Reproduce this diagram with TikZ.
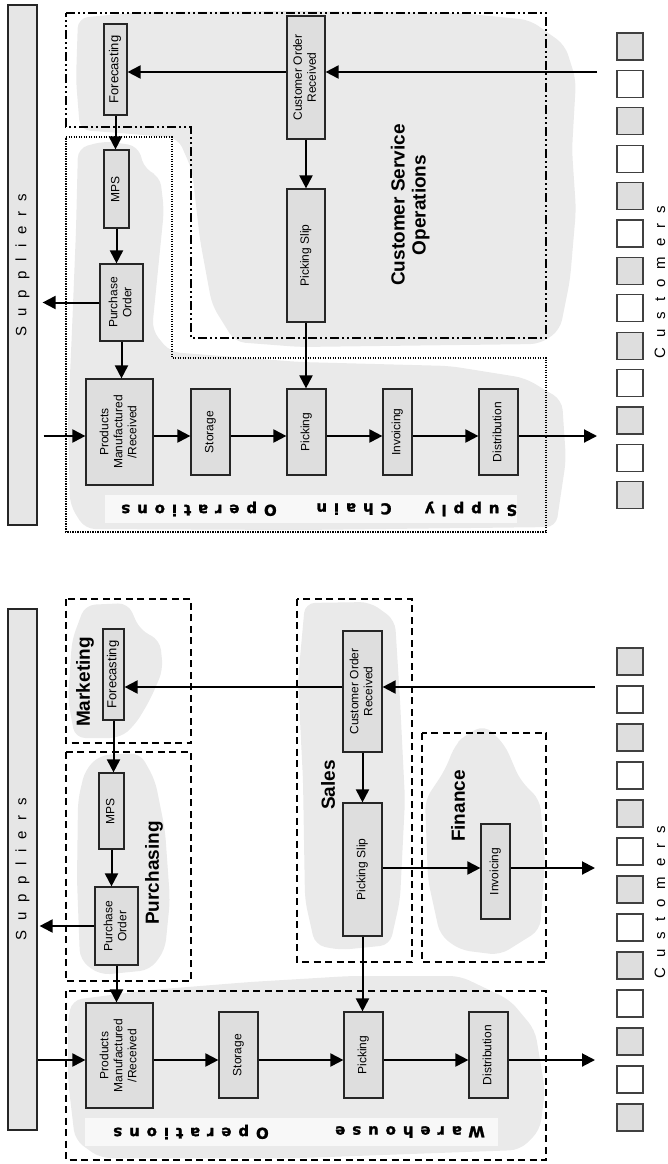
\documentclass[tikz,border=0pt]{standalone}
\usepackage{fontspec}
\setmainfont{Liberation Sans}
\newfontfamily\heavyfont{DejaVu Sans Bold}[LetterSpace=46, FakeBold=1.6]
\usepackage{graphicx}
\usetikzlibrary{arrows.meta}
\definecolor{boxgray}{HTML}{DEDEDE}
\definecolor{blobgray}{HTML}{EAEAEA}
\definecolor{bargray}{HTML}{E6E6E6}
\definecolor{stripgray}{HTML}{F8F8F8}
\newcommand{\vtext}[2][12]{\rotatebox{90}{\fontsize{#1}{14}\selectfont\begin{tabular}{@{}c@{}}#2\end{tabular}}}
\newcommand{\flipspaced}[1]{\rotatebox{180}{\heavyfont\fontsize{15}{17}\selectfont #1}}
\newcommand{\vspaced}[1]{\rotatebox{90}{\fontsize{15}{17}\selectfont\addfontfeature{LetterSpace=67}#1}}
\begin{document}
\begin{tikzpicture}[x=1pt,y=-1pt,
  box/.style={draw=black!85, line width=1.2pt, fill=boxgray, inner sep=0pt},
  bar/.style={draw=black!85, line width=1.2pt, fill=bargray, inner sep=0pt},
  arr/.style={line width=2pt, -{Triangle[length=13pt,width=13pt]}},
  dashbox/.style={dash pattern=on 7pt off 4.5pt, line width=1.7pt},
  dotbox/.style={dash pattern=on 1.4pt off 1.1pt, line width=1.8pt},
  dashdotbox/.style={dash pattern=on 9pt off 3pt on 2pt off 3pt on 2pt off 3pt, line width=1.7pt},
  blob/.style={fill=blobgray, rounded corners=10pt},
  lab/.style={font=\fontsize{19}{21}\selectfont\bfseries, inner sep=0pt},
  strip/.style={fill=stripgray},
  custsq/.style={draw=black!75, line width=1.1pt},
  plain/.style={inner sep=0pt}]
\useasboundingbox (0,0) rectangle (668,1164);

% ================= TOP PANEL =================
% blobs
\fill[blob] (78,18) -- (140,12) -- (300,11) -- (460,13) -- (530,20) -- (565,45) -- (576,80) -- (572,150) -- (576,210) -- (570,280) -- (560,330) -- (540,344) -- (300,347) -- (235,342) -- (212,305) -- (200,240) -- (192,170) -- (178,138) -- (120,133) -- (80,130) -- (76,80) -- cycle;
\fill[blob] (78,148) -- (105,141) -- (138,146) -- (145,170) -- (160,176) -- (164,210) -- (158,270) -- (152,330) -- (170,352) -- (300,362) -- (450,366) -- (525,378) -- (562,400) -- (566,460) -- (556,527) -- (300,530) -- (85,529) -- (70,505) -- (68,420) -- (72,330) -- (76,230) -- cycle;
% boundaries
\draw[dashdotbox] (66,13) -- (546,13) -- (546,338) -- (191,338) -- (191,127) -- (66,127) -- cycle;
\draw[dotbox] (66,137) -- (172,137) -- (172,358) -- (546,358) -- (546,532) -- (66,532) -- cycle;
% label strip
\fill[strip] (105,495) rectangle (517,523);
\node[plain] (lop1) at (199,509) {\flipspaced{Operations}};
\node[plain] (lch1) at (354,509) {\flipspaced{Chain}};
\node[plain] (lsu1) at (471,509) {\flipspaced{Supply}};
\node[lab] (lcso) at (411,205) {\rotatebox{90}{\begin{tabular}{@{}c@{}}Customer Service\\Operations\end{tabular}}};

% suppliers / customers
\node[bar, minimum width=29pt, minimum height=520pt] (sup1) at (22.5,265) {\vspaced{Suppliers}};
\foreach \i in {0,2,...,12} \draw[custsq, fill=boxgray] (617,{33+37.4*\i}) rectangle ++(26,27);
\foreach \i in {1,3,...,11} \draw[custsq, fill=white] (617,{33+37.4*\i}) rectangle ++(26,27);
\node[plain] (cust1) at (660,282) {\vspaced{Customers}};

% boxes
\node[box, minimum width=23pt, minimum height=91pt] (fc1) at (115.5,69.5) {\vtext[13]{Forecasting}};
\node[box, minimum width=38pt, minimum height=123pt] (cor1) at (306,77.5) {\vtext{Customer Order\\Received}};
\node[box, minimum width=25pt, minimum height=78pt] (mps1) at (116.5,189) {\vtext{MPS}};
\node[box, minimum width=38pt, minimum height=133pt] (ps1) at (306,255.5) {\vtext{Picking Slip}};
\node[box, minimum width=43pt, minimum height=77pt] (po1) at (121.5,302.5) {\vtext{Purchase\\Order}};
\node[box, minimum width=67pt, minimum height=106pt] (pm1) at (119.5,432) {\vtext{Products\\Manufactured\\/Received}};
\node[box, minimum width=39pt, minimum height=86pt] (st1) at (210.5,432) {\vtext{Storage}};
\node[box, minimum width=39pt, minimum height=86pt] (pk1) at (306.5,432) {\vtext{Picking}};
\node[box, minimum width=29pt, minimum height=86pt] (inv1) at (397.5,432) {\vtext{Invoicing}};
\node[box, minimum width=39pt, minimum height=86pt] (dis1) at (498.5,432) {\vtext{Distribution}};

% connectors
\coordinate (cin1) at (597,72);
\coordinate (flow1) at (0,436);
\coordinate (cout1) at (597,436);
\draw[arr] (cin1) -- (cor1.east |- cin1);
\draw[arr] (cor1.west |- cin1) -- (fc1.east |- cin1);
\draw[arr] (fc1.south) -- (fc1.south |- mps1.north);
\draw[arr] (mps1.south) -- (mps1.south |- po1.north);
\draw[arr] (cor1.south) -- (cor1.south |- ps1.north);
\draw[arr] (ps1.south) -- (ps1.south |- pk1.north);
\draw[arr, shorten >=5pt] (po1.west) -- (sup1.east |- po1.west);
\draw[arr] (po1.south) -- (po1.south |- pm1.north);
\draw[arr, shorten <=6pt] (sup1.east |- flow1) -- (pm1.west |- flow1);
\draw[arr] (pm1.east |- flow1) -- (st1.west |- flow1);
\draw[arr] (st1.east |- flow1) -- (pk1.west |- flow1);
\draw[arr] (pk1.east |- flow1) -- (inv1.west |- flow1);
\draw[arr] (inv1.east |- flow1) -- (dis1.west |- flow1);
\draw[arr] (dis1.east |- flow1) -- (cout1);

% ================= BOTTOM PANEL =================
% blobs
\fill[blob] (85,605) -- (128,603) -- (140,630) -- (160,640) -- (163,670) -- (150,700) -- (135,725) -- (120,738) -- (75,738) -- (68,700) -- (72,640) -- cycle;
\fill[blob] (100,755) -- (140,753) -- (155,780) -- (165,830) -- (170,900) -- (165,950) -- (150,970) -- (100,975) -- (80,960) -- (77,880) -- (78,800) -- (85,770) -- cycle;
\fill[blob] (305,603) -- (370,602) -- (395,620) -- (400,700) -- (405,800) -- (400,900) -- (390,945) -- (340,950) -- (315,945) -- (305,900) -- (303,780) -- (298,680) -- cycle;
\fill[blob] (465,735) -- (485,725) -- (505,745) -- (520,780) -- (540,800) -- (545,860) -- (540,930) -- (500,955) -- (460,950) -- (440,935) -- (428,880) -- (425,800) -- (445,770) -- (455,745) -- cycle;
\fill[blob] (72,1000) -- (150,990) -- (250,982) -- (350,976) -- (460,976) -- (510,1000) -- (535,1030) -- (545,1090) -- (540,1130) -- (520,1150) -- (300,1158) -- (100,1158) -- (75,1140) -- (68,1080) -- (68,1020) -- cycle;
% dashed department boxes
\draw[dashbox] (66,599) rectangle (191,743);
\draw[dashbox] (66,752) rectangle (191,981);
\draw[dashbox] (297,599) rectangle (412,962);
\draw[dashbox] (422,733) rectangle (546,962);
\draw[dashbox] (66,991) rectangle (546,1160);
% strip
\fill[strip] (85,1118) rectangle (498,1146);
\node[plain] (lop2) at (191,1132) {\flipspaced{Operations}};
\node[plain] (lwh2) at (410,1132) {\flipspaced{Warehouse}};
% labels
\node[lab] (lmkt) at (85,682) {\rotatebox{90}{Marketing}};
\node[lab] (lpur) at (154,873) {\rotatebox{90}{Purchasing}};
\node[lab] (lsal) at (328,785) {\rotatebox{90}{Sales}};
\node[lab] (lfin) at (458,806) {\rotatebox{90}{Finance}};

% suppliers / customers
\node[bar, minimum width=29pt, minimum height=521pt] (sup2) at (22.5,869.5) {\vspaced{Suppliers}};
\foreach \i in {0,2,...,12} \draw[custsq, fill=boxgray] (617,{648+38*\i}) rectangle ++(26,27);
\foreach \i in {1,3,...,11} \draw[custsq, fill=white] (617,{648+38*\i}) rectangle ++(26,27);
\node[plain] (cust2) at (660,902) {\vspaced{Customers}};

% boxes
\node[box, minimum width=21pt, minimum height=91pt] (fc2) at (113.5,674.5) {\vtext[13]{Forecasting}};
\node[box, minimum width=25pt, minimum height=76pt] (mps2) at (111.5,811) {\vtext{MPS}};
\node[box, minimum width=43pt, minimum height=78pt] (po2) at (116.5,926) {\vtext{Purchase\\Order}};
\node[box, minimum width=39pt, minimum height=121pt] (cor2) at (362.5,691.5) {\vtext{Customer Order\\Received}};
\node[box, minimum width=39pt, minimum height=133pt] (ps2) at (362.5,869.5) {\vtext{Picking Slip}};
\node[box, minimum width=29pt, minimum height=95pt] (inv2) at (495.5,871.5) {\vtext{Invoicing}};
\node[box, minimum width=67pt, minimum height=105pt] (pm2) at (119.5,1055.5) {\vtext{Products\\Manufactured\\/Received}};
\node[box, minimum width=39pt, minimum height=86pt] (st2) at (238.5,1055) {\vtext{Storage}};
\node[box, minimum width=39pt, minimum height=86pt] (pk2) at (363.5,1055) {\vtext{Picking}};
\node[box, minimum width=39pt, minimum height=86pt] (dis2) at (488.5,1055) {\vtext{Distribution}};

% connectors
\coordinate (cin2) at (595,687);
\coordinate (flow2) at (0,1060);
\coordinate (fin2) at (0,868);
\coordinate (cout2) at (595,1060);
\coordinate (cout3) at (595,868);
\draw[arr] (cin2) -- (cor2.east |- cin2);
\draw[arr] (cor2.west |- cin2) -- (fc2.east |- cin2);
\draw[arr] (fc2.south) -- (fc2.south |- mps2.north);
\draw[arr] (mps2.south) -- (mps2.south |- po2.north);
\draw[arr, shorten >=2pt] (po2.west) -- (sup2.east |- po2.west);
\draw[arr] (po2.south) -- (po2.south |- pm2.north);
\draw[arr] (cor2.south) -- (cor2.south |- ps2.north);
\draw[arr] (ps2.south) -- (ps2.south |- pk2.north);
\draw[arr] (ps2.east |- fin2) -- (inv2.west |- fin2);
\draw[arr] (inv2.east |- fin2) -- (cout3);
\draw[arr] (sup2.east |- flow2) -- (pm2.west |- flow2);
\draw[arr] (pm2.east |- flow2) -- (st2.west |- flow2);
\draw[arr] (st2.east |- flow2) -- (pk2.west |- flow2);
\draw[arr] (pk2.east |- flow2) -- (dis2.west |- flow2);
\draw[arr] (dis2.east |- flow2) -- (cout2);
\end{tikzpicture}
\end{document}
